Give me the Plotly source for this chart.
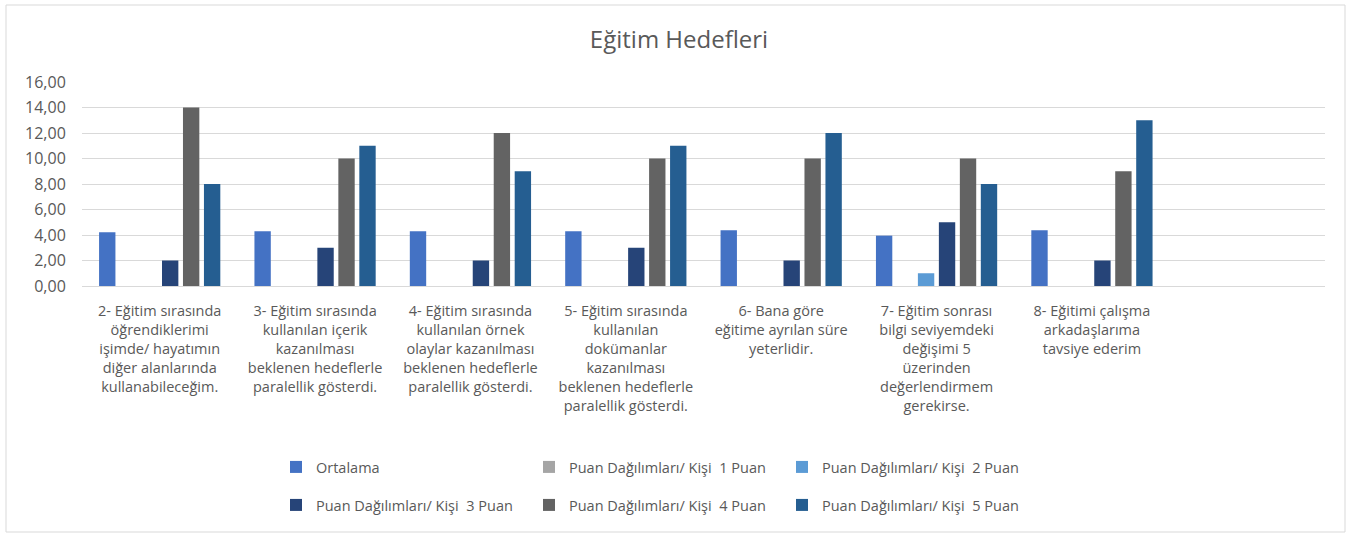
import plotly.graph_objects as go

categories = [
    "2- Eğitim sırasında<br>öğrendiklerimi<br>işimde/ hayatımın<br>diğer alanlarında<br>kullanabileceğim.",
    "3- Eğitim sırasında<br>kullanılan içerik<br>kazanılması<br>beklenen hedeflerle<br>paralellik gösterdi.",
    "4- Eğitim sırasında<br>kullanılan örnek<br>olaylar kazanılması<br>beklenen hedeflerle<br>paralellik gösterdi.",
    "5- Eğitim sırasında<br>kullanılan<br>dokümanlar<br>kazanılması<br>beklenen hedeflerle<br>paralellik gösterdi.",
    "6- Bana göre<br>eğitime ayrılan süre<br>yeterlidir.",
    "7- Eğitim sonrası<br>bilgi seviyemdeki<br>değişimi 5<br>üzerinden<br>değerlendirmem<br>gerekirse.",
    "8- Eğitimi çalışma<br>arkadaşlarıma<br>tavsiye ederim",
    " ",
]

ortalama = [4.22, 4.30, 4.30, 4.30, 4.38, 3.95, 4.38, None]
puan1 = [None, None, None, None, None, None, None, None]
puan2 = [None, None, None, None, None, 1, None, None]
puan3 = [2, 3, 2, 3, 2, 5, 2, None]
puan4 = [14, 10, 12, 10, 10, 10, 9, None]
puan5 = [8, 11, 9, 11, 12, 8, 13, None]

series_names = [
    "Ortalama",
    "Puan Dağılımları/ Kişi  1 Puan",
    "Puan Dağılımları/ Kişi  2 Puan",
    "Puan Dağılımları/ Kişi  3 Puan",
    "Puan Dağılımları/ Kişi  4 Puan",
    "Puan Dağılımları/ Kişi  5 Puan",
]
series_values = [ortalama, puan1, puan2, puan3, puan4, puan5]
series_colors = ["#4472C4", "#A5A5A5", "#5B9BD5", "#264478", "#636363", "#255E91"]
legend_ids = ["legend", "legend", "legend", "legend2", "legend2", "legend2"]

y_ticks = [0, 2, 4, 6, 8, 10, 12, 14, 16]

FONT = "Open Sans"
TXT = "#595959"

fig = go.Figure()
for name, vals, col, lg in zip(series_names, series_values, series_colors, legend_ids):
    fig.add_trace(go.Bar(
        x=categories, y=vals, name=name,
        marker=dict(color=col, line=dict(width=0)),
        legend=lg,
    ))

W, H = 1352, 536
L, R, T, B = 82, 27, 82, 250
pw, ph = W - L - R, H - T - B

legend_common = dict(orientation="h", xanchor="left", yanchor="middle",
                     entrywidth=208, entrywidthmode="pixels",
                     font=dict(family=FONT, size=14.5, color=TXT), itemwidth=30,
                     bgcolor="rgba(0,0,0,0)", traceorder="normal")

fig.update_layout(
    width=W, height=H,
    margin=dict(l=L, r=R, t=T, b=B, autoexpand=False),
    paper_bgcolor="white", plot_bgcolor="white",
    font=dict(family=FONT, size=14, color=TXT),
    separators=",.",
    barmode="group", bargap=0.19, bargroupgap=0.22,
    title=dict(text="Eğitim Hedefleri", x=(679 - L) / pw, xref="paper", xanchor="center",
               y=1 - 40 / H, yanchor="middle", yref="container",
               font=dict(family=FONT, size=24, color=TXT)),
    xaxis=dict(showgrid=False, showline=True, linecolor="#D9D9D9", linewidth=1,
               ticks="", tickfont=dict(family=FONT, size=14.5, color=TXT), tickangle=0,
               ticklabelstandoff=12, automargin=False),
    yaxis=dict(range=[0, 16], tickvals=y_ticks, tickformat=".2f",
               showgrid=True, gridcolor="#D9D9D9", gridwidth=1,
               zeroline=False, showline=False,
               ticks="outside", ticklen=12, tickcolor="rgba(0,0,0,0)",
               tickfont=dict(family=FONT, size=16, color=TXT), automargin=False),
    legend=dict(x=(276 - L) / pw, y=(H - B - 467) / ph, **legend_common),
    legend2=dict(x=(276 - L) / pw, y=(H - B - 505) / ph, **legend_common),
    shapes=[dict(type="rect", xref="paper", yref="paper",
                 x0=(6 - L) / pw, x1=(1345 - L) / pw,
                 y0=(H - B - 532) / ph, y1=(H - B - 5) / ph,
                 line=dict(color="#D9D9D9", width=1), layer="below")],
)

fig.write_html("out.html", config={"displayModeBar": False},
               post_script="document.body.style.margin='0';")
